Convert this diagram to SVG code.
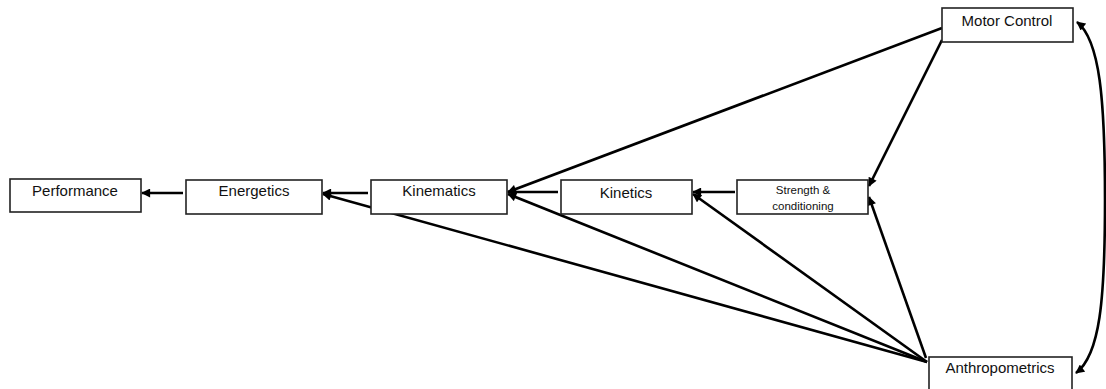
<svg xmlns="http://www.w3.org/2000/svg" width="1106" height="389" viewBox="0 0 1106 389">
<style>
.box{fill:#fff;stroke:#222;stroke-width:1.6}
.t{font-family:"Liberation Sans",Arial,sans-serif;font-size:15px;fill:#111;text-anchor:middle}
.s{font-size:11.5px}
.c{fill:none;stroke:#000;stroke-width:2.6;marker-end:url(#ah)}
</style>
<defs>
<marker id="ah" viewBox="0 0 10 10" refX="9" refY="5" markerUnits="userSpaceOnUse" markerWidth="10" markerHeight="9" orient="auto-start-reverse">
<path d="M0,0 L10,5 L0,10 z" fill="#000"/>
</marker>
</defs>
<rect width="1106" height="389" fill="#fff"/>
<g id="connectors">
<line class="c" x1="183" y1="193" x2="142" y2="193"/>
<line class="c" x1="368" y1="193" x2="323" y2="193"/>
<line class="c" x1="558" y1="192" x2="508" y2="192"/>
<line class="c" x1="735" y1="192" x2="693" y2="192"/>
<line class="c" x1="927" y1="362" x2="323" y2="194"/>
<line class="c" x1="927" y1="362" x2="508" y2="194"/>
<line class="c" x1="927" y1="362" x2="693" y2="194"/>
<line class="c" x1="926" y1="358" x2="869" y2="197"/>
<line class="c" x1="942" y1="28" x2="508" y2="192"/>
<line class="c" x1="942" y1="40" x2="869" y2="186"/>
<path class="c" style="marker-start:url(#ah)" d="M1076,373 C1100,355 1105,300 1105,200 C1105,100 1100,40 1077,22"/>
</g>
<g id="performance"><rect class="box" x="10" y="179" width="131" height="33"/><text class="t" x="75" y="196">Performance</text></g>
<g id="energetics"><rect class="box" x="186" y="180" width="136" height="34"/><text class="t" x="254" y="196">Energetics</text></g>
<g id="kinematics"><rect class="box" x="371" y="180" width="136" height="34"/><text class="t" x="439" y="196">Kinematics</text></g>
<g id="kinetics"><rect class="box" x="561" y="180" width="131" height="34"/><text class="t" x="626" y="198">Kinetics</text></g>
<g id="strength"><rect class="box" x="737" y="180" width="131" height="34"/><text class="t s" x="803" y="194">Strength &amp;</text><text class="t s" x="803" y="210">conditioning</text></g>
<g id="motor-control"><rect class="box" x="942" y="8" width="131" height="34"/><text class="t" x="1007" y="26">Motor Control</text></g>
<g id="anthropometrics"><rect class="box" x="929" y="357" width="143" height="40"/><text class="t" x="1000" y="373">Anthropometrics</text></g>
</svg>
